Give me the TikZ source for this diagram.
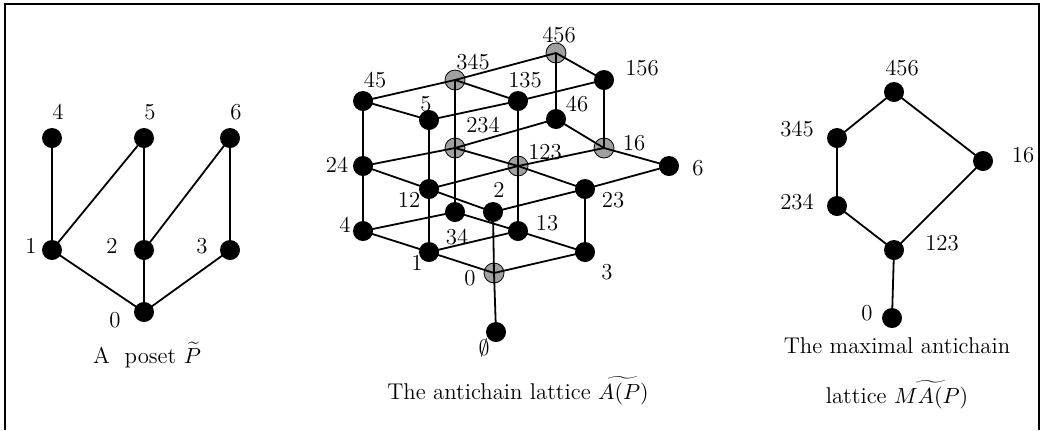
\documentclass[tikz,border=0pt]{standalone}
\pgfdeclarelayer{glayer}
\pgfdeclarelayer{elayer}
\pgfsetlayers{glayer,elayer,main}
\definecolor{graynode}{RGB}{160,160,160}
\begin{document}
\begin{tikzpicture}[x=0.5pt,y=-0.5pt,
  bdot/.style={circle,fill=black,inner sep=0pt,minimum size=10pt},
  gdot/.style={circle,draw=black,line width=0.4pt,fill=graynode,inner sep=0pt,minimum size=10pt},
  lbl/.style={inner sep=0pt,font=\fontsize{11.4}{13.7}\selectfont},
  edge/.style={line width=0.9pt}]
\useasboundingbox (0,0) rectangle (1042,430);
\draw[line width=1pt] (5,430) -- (5,4) -- (1039,4) -- (1039,430);

% ---------- left poset ----------
\node[bdot] (p4) at (52,138) {};
\node[bdot] (p5) at (144,138) {};
\node[bdot] (p6) at (230,138) {};
\node[bdot] (p1) at (52,250) {};
\node[bdot] (p2) at (144,250) {};
\node[bdot] (p3) at (230,250) {};
\node[bdot] (p0) at (144,312) {};
\node[lbl] (lp4) at (58,112) {4};
\node[lbl] (lp5) at (150,112) {5};
\node[lbl] (lp6) at (236,112) {6};
\node[lbl] (lp1) at (31,246) {1};
\node[lbl] (lp2) at (112,246) {2};
\node[lbl] (lp3) at (202,246) {3};
\node[lbl] (lp0) at (115,320) {0};
\node[lbl,anchor=base] (capL) at (147,363) {A\ \ poset $\widetilde{P}$};
\begin{pgfonlayer}{elayer}
\draw[edge] (p4.center) -- (p1.center);
\draw[edge] (p5.center) -- (p1.center);
\draw[edge] (p5.center) -- (p2.center);
\draw[edge] (p6.center) -- (p2.center);
\draw[edge] (p6.center) -- (p3.center);
\draw[edge] (p1.center) -- (p0.center);
\draw[edge] (p2.center) -- (p0.center);
\draw[edge] (p3.center) -- (p0.center);
\end{pgfonlayer}

% ---------- middle lattice ----------
\begin{pgfonlayer}{glayer}
\node[gdot] (m0) at (494,273) {};
\node[gdot] (m123) at (518,166) {};
\node[gdot] (m234) at (455,148) {};
\node[gdot] (m16) at (604,148) {};
\node[gdot] (m345) at (455,80) {};
\node[gdot] (m456) at (556,53) {};
\end{pgfonlayer}
\node[bdot] (me) at (496,332) {};
\node[bdot] (m1) at (429,252) {};
\node[bdot] (m3) at (585,252) {};
\node[bdot] (m4) at (363,231) {};
\node[bdot] (m13) at (518,231) {};
\node[bdot] (m34) at (455,212) {};
\node[bdot] (m2) at (493,212) {};
\node[bdot] (m12) at (429,189) {};
\node[bdot] (m23) at (585,189) {};
\node[bdot] (m24) at (363,166) {};
\node[bdot] (m6) at (669,166) {};
\node[bdot] (m5) at (429,120) {};
\node[bdot] (m46) at (556,119) {};
\node[bdot] (m45) at (363,101) {};
\node[bdot] (m135) at (518,101) {};
\node[bdot] (m156) at (604,80) {};

\begin{pgfonlayer}{elayer}
% vertical
\draw[edge] (me.center) -- (m0.center);
\draw[edge] (m0.center) -- (m2.center);
\draw[edge] (m4.center) -- (m24.center);
\draw[edge] (m24.center) -- (m45.center);
\draw[edge] (m1.center) -- (m12.center);
\draw[edge] (m12.center) -- (m5.center);
\draw[edge] (m34.center) -- (m234.center);
\draw[edge] (m234.center) -- (m345.center);
\draw[edge] (m13.center) -- (m123.center);
\draw[edge] (m123.center) -- (m135.center);
\draw[edge] (m3.center) -- (m23.center);
\draw[edge] (m46.center) -- (m456.center);
\draw[edge] (m16.center) -- (m156.center);
% right-down direction
\draw[edge] (m4.center) -- (m1.center);
\draw[edge] (m1.center) -- (m0.center);
\draw[edge] (m24.center) -- (m12.center);
\draw[edge] (m12.center) -- (m2.center);
\draw[edge] (m45.center) -- (m5.center);
\draw[edge] (m345.center) -- (m135.center);
\draw[edge] (m234.center) -- (m123.center);
\draw[edge] (m34.center) -- (m13.center);
\draw[edge] (m13.center) -- (m3.center);
\draw[edge] (m123.center) -- (m23.center);
\draw[edge] (m456.center) -- (m156.center);
\draw[edge] (m46.center) -- (m16.center);
\draw[edge] (m16.center) -- (m6.center);
% right-up direction
\draw[edge] (m0.center) -- (m3.center);
\draw[edge] (m1.center) -- (m13.center);
\draw[edge] (m4.center) -- (m34.center);
\draw[edge] (m12.center) -- (m123.center);
\draw[edge] (m24.center) -- (m234.center);
\draw[edge] (m2.center) -- (m23.center);
\draw[edge] (m123.center) -- (m16.center);
\draw[edge] (m234.center) -- (m46.center);
\draw[edge] (m5.center) -- (m135.center);
\draw[edge] (m45.center) -- (m345.center);
\draw[edge] (m345.center) -- (m456.center);
\draw[edge] (m135.center) -- (m156.center);
\draw[edge] (m23.center) -- (m6.center);
\end{pgfonlayer}

\node[lbl] (lm456) at (559,35) {456};
\node[lbl] (lm156) at (642,68) {156};
\node[lbl] (lm345) at (473,62) {345};
\node[lbl] (lm135) at (525,80) {135};
\node[lbl] (lm45) at (375,80) {45};
\node[lbl] (lm5) at (426,104) {5};
\node[lbl] (lm234) at (483,125) {234};
\node[lbl] (lm46) at (577,104) {46};
\node[lbl] (lm16) at (634,143) {16};
\node[lbl] (lm123) at (545,152) {123};
\node[lbl] (lm24) at (337,165) {24};
\node[lbl] (lm6) at (698,168) {6};
\node[lbl] (lm12) at (409,200) {12};
\node[lbl] (lm2) at (499,190) {2};
\node[lbl] (lm23) at (613,200) {23};
\node[lbl] (lm4) at (345,225) {4};
\node[lbl] (lm13) at (547,223) {13};
\node[lbl] (lm34) at (457,237) {34};
\node[lbl] (lm1) at (417,263) {1};
\node[lbl] (lm3) at (607,272) {3};
\node[lbl] (lm0) at (470,278) {0};
\node[lbl] (lme) at (484,348) {$\emptyset$};
\node[lbl,anchor=base] (capM) at (518,399) {The antichain lattice $\widetilde{A(P)}$};

% ---------- right lattice ----------
\node[bdot] (r456) at (894,92) {};
\node[bdot] (r345) at (837,138) {};
\node[bdot] (r234) at (837,206) {};
\node[bdot] (r16) at (983,161) {};
\node[bdot] (r123) at (894,250) {};
\node[bdot] (r0) at (892,318) {};
\begin{pgfonlayer}{elayer}
\draw[edge] (r456.center) -- (r345.center);
\draw[edge] (r456.center) -- (r16.center);
\draw[edge] (r345.center) -- (r234.center);
\draw[edge] (r234.center) -- (r123.center);
\draw[edge] (r16.center) -- (r123.center);
\draw[edge] (r123.center) -- (r0.center);
\end{pgfonlayer}
\node[lbl] (lr456) at (902,68) {456};
\node[lbl] (lr345) at (797,129) {345};
\node[lbl] (lr234) at (797,202) {234};
\node[lbl] (lr16) at (1023,155) {16};
\node[lbl] (lr123) at (942,243) {123};
\node[lbl] (lr0) at (867,313) {0};
\node[lbl,anchor=base] (capR1) at (897,353) {The maximal antichain};
\node[lbl,anchor=base] (capR2) at (897,403) {lattice $\widetilde{MA(P)}$};
\end{tikzpicture}
\end{document}
